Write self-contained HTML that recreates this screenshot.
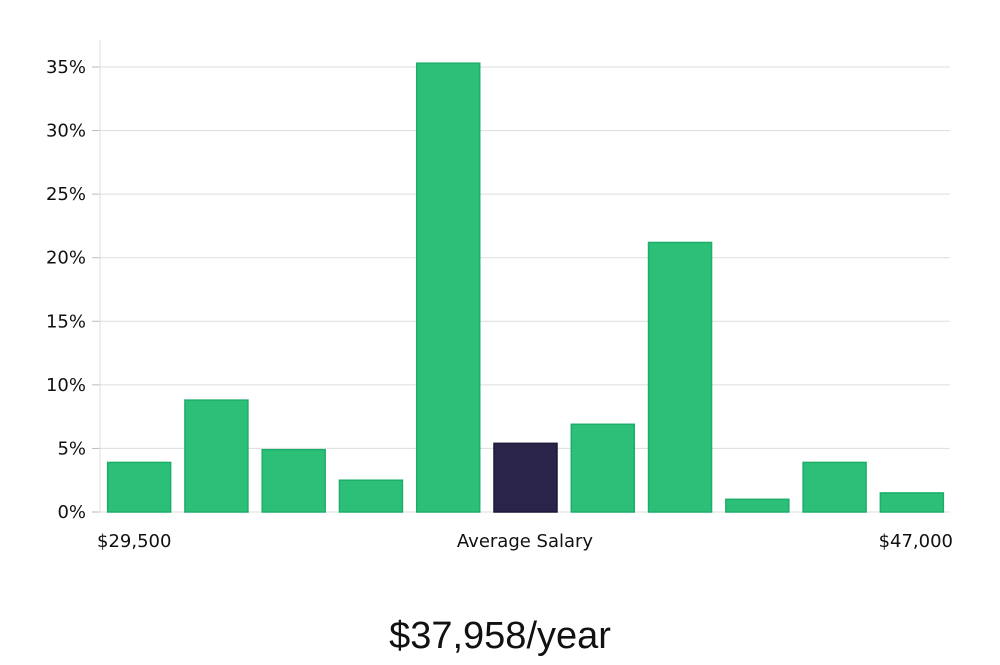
<!DOCTYPE html>
<html><head><meta charset="utf-8"><style>
body{margin:0;background:#fff;width:1000px;height:660px;overflow:hidden}
svg text{font-family:"DejaVu Sans","Liberation Sans",sans-serif}
</style></head><body>
<svg width="1000" height="660">
<g id="grid"></g>
<g id="bars"></g>
<g id="yticks"></g>
<line x1="100" y1="40" x2="100" y2="512" stroke="#ddd"/>
<text x="97" y="547" font-size="18" fill="#111">$29,500</text>
<text x="525" y="547" font-size="18" fill="#111" text-anchor="middle">Average Salary</text>
<text x="953" y="547" font-size="18" fill="#111" text-anchor="end">$47,000</text>
<text x="500" y="648" font-size="38" fill="#111" text-anchor="middle" style="font-family:'Liberation Sans',sans-serif;font-weight:300">$37,958/year</text>
</svg>
<script>
const values=[3.9,8.8,4.9,2.5,35.3,5.4,6.9,21.2,1.0,3.9,1.5];
const highlight=[false,false,false,false,false,true,false,false,false,false,false];
const yTicks=[0,5,10,15,20,25,30,35];
const x0=100,x1=950,y0=512,pxPer=(512-67)/35;
const y=v=>y0-v*pxPer;
const ns="http://www.w3.org/2000/svg";
const grid=document.getElementById('grid'),yt=document.getElementById('yticks'),bars=document.getElementById('bars');
yTicks.forEach(t=>{
 const l=document.createElementNS(ns,'line');
 l.setAttribute('x1',x0);l.setAttribute('x2',x1);l.setAttribute('y1',y(t));l.setAttribute('y2',y(t));
 l.setAttribute('stroke','#ddd');
 
 
 grid.appendChild(l);
 const tk=document.createElementNS(ns,'line');
 tk.setAttribute('x1',92);tk.setAttribute('x2',100);tk.setAttribute('y1',y(t));tk.setAttribute('y2',y(t));tk.setAttribute('stroke','#bbb');
 
 
 yt.appendChild(tk);
 const tx=document.createElementNS(ns,'text');
 tx.setAttribute('x',86);tx.setAttribute('y',y(t)+6);tx.setAttribute('text-anchor','end');tx.setAttribute('font-size','18');tx.setAttribute('fill','#111');
 tx.textContent=t+'%';
 
 
 yt.appendChild(tx);
});
const band=(x1-x0)/values.length,bw=63;
values.forEach((v,i)=>{
 const r=document.createElementNS(ns,'rect');
 r.setAttribute('x',x0+i*band+(band-bw)/2+0.5);r.setAttribute('width',bw);
 r.setAttribute('y',y(v));r.setAttribute('height',y0-y(v));
 r.setAttribute('fill',highlight[i]?'#2a2548':'#2bbf77');
 r.setAttribute('stroke',highlight[i]?'#1c1838':'#1fae6a');
 r.setAttribute('stroke-width','1.5');
 
 
 bars.appendChild(r);
});
</script>
</body></html>
